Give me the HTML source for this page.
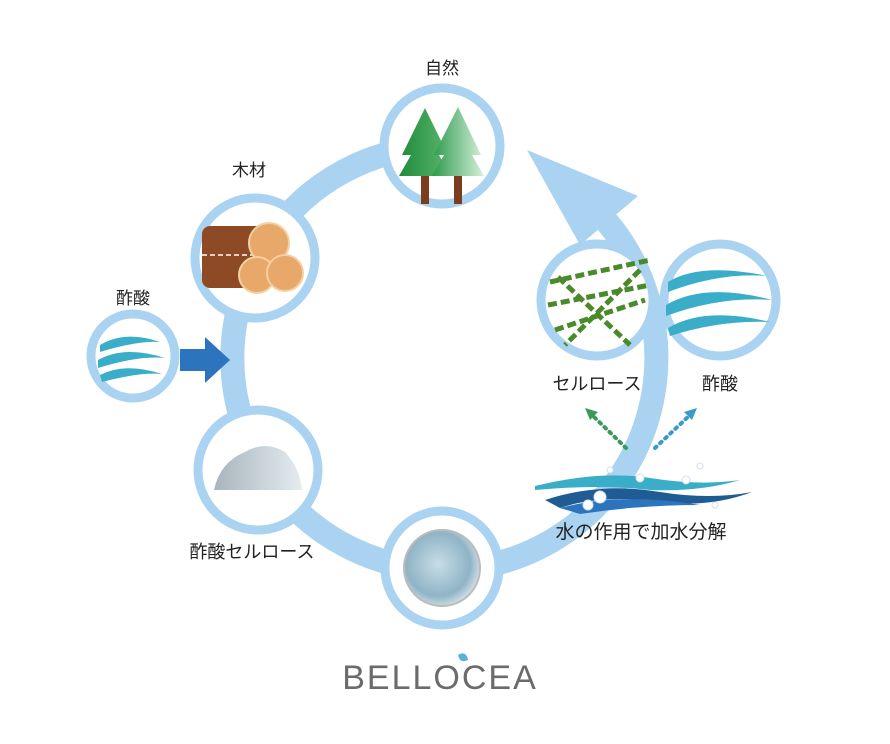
<!DOCTYPE html>
<html><head><meta charset="utf-8"><style>
body{margin:0;background:#fff;width:890px;height:739px;overflow:hidden}
text{font-family:"Liberation Sans","Noto Sans CJK JP",sans-serif;fill:#222}
</style></head><body>
<svg width="890" height="739" viewBox="0 0 890 739" xmlns="http://www.w3.org/2000/svg">
<defs>
<linearGradient id="tr" x1="0" x2="1"><stop offset="0" stop-color="#1f8a3c"/><stop offset="1" stop-color="#5cb96f"/></linearGradient>
<linearGradient id="tr2" x1="0" x2="1"><stop offset="0" stop-color="#2a9a4a"/><stop offset="1" stop-color="#d8f0dc"/></linearGradient>
<radialGradient id="ball" cx="0.45" cy="0.45" r="0.6"><stop offset="0" stop-color="#c8dce6"/><stop offset="0.7" stop-color="#8fb4c6"/><stop offset="1" stop-color="#e0e8ee"/></radialGradient>
<linearGradient id="pile" x1="0" x2="1"><stop offset="0" stop-color="#a8b4bc"/><stop offset="1" stop-color="#e4ecf0"/></linearGradient>
</defs>
<!-- ring -->
<path d="M 442 146 A 212 212 0 1 0 607 222" fill="none" stroke="#a9d3f0" stroke-width="24"/>
<polygon points="527,150 580,245 638,196" fill="#a9d3f0"/>
<!-- circles -->
<g stroke="#a9d3f0" stroke-width="9" fill="#fff">
<circle cx="442" cy="146" r="58"/>
<circle cx="255" cy="258" r="60"/>
<circle cx="258" cy="470" r="60"/>
<circle cx="442" cy="568" r="57"/>
<circle cx="597" cy="300" r="56"/>
<circle cx="720" cy="300" r="56"/>
<circle cx="133" cy="356" r="42"/>
</g>
<!-- trees -->
<rect x="421" y="170" width="8" height="34" fill="#7a3d1e"/>
<rect x="454" y="170" width="8" height="34" fill="#7a3d1e"/>
<polygon points="425,108 402,155 411,155 399,176 451,176 439,155 448,155" fill="url(#tr)"/>
<polygon points="458,107 434,155 444,155 432,176 484,176 472,155 481,155" fill="url(#tr2)"/>
<!-- logs -->
<rect x="202" y="226" width="70" height="62" rx="8" fill="#8e4a24"/>
<line x1="202" y1="255" x2="255" y2="255" stroke="#fff" stroke-width="1.5" stroke-dasharray="5,3"/>
<circle cx="269" cy="243" r="20" fill="#e8a86a" stroke="#f4d0a0" stroke-width="2"/>
<circle cx="257" cy="275" r="18" fill="#e8a86a" stroke="#f4d0a0" stroke-width="2"/>
<circle cx="285" cy="273" r="18" fill="#e8a86a" stroke="#f4d0a0" stroke-width="2"/>
<!-- pile -->
<path d="M214 490 Q220 462 245 452 Q265 440 285 452 Q300 468 302 490 Z" fill="url(#pile)"/>
<!-- ball -->
<circle cx="442" cy="568" r="38" fill="url(#ball)" stroke="#bbb" stroke-width="2"/>
<!-- waves in small circle -->
<g fill="#3aaec8">
<path d="M100 345 Q125 330 160 342 Q140 340 100 352Z"/>
<path d="M98 360 Q125 345 165 358 Q140 355 98 368Z"/>
<path d="M100 375 Q125 362 162 374 Q140 372 102 382Z"/>
</g>
<polygon points="180,349 205,349 205,337 230,360 205,383 205,371 180,371" fill="#2d74bf"/>
<!-- acid big waves -->
<g fill="#3aaec8">
<path d="M668 282 Q700 262 768 276 Q720 272 668 292Z"/>
<path d="M666 305 Q705 282 772 300 Q720 296 666 316Z"/>
<path d="M668 328 Q705 306 770 322 Q720 320 670 336Z"/>
</g>
<!-- cellulose dashes -->
<g stroke="#4a8a2a" stroke-width="5" stroke-dasharray="9,4" fill="none">
<line x1="550" y1="282" x2="650" y2="260"/>
<line x1="548" y1="305" x2="650" y2="285"/>
<line x1="555" y1="330" x2="645" y2="300"/>
<line x1="558" y1="277" x2="630" y2="345"/>
<line x1="640" y1="270" x2="565" y2="345"/>
</g>
<!-- dotted arrows -->
<line x1="626" y1="448" x2="592" y2="415" stroke="#3a9a5a" stroke-width="4" stroke-dasharray="2,5" stroke-linecap="round"/>
<polygon points="585,408 598,412 590,420" fill="#3a9a5a"/>
<line x1="655" y1="448" x2="690" y2="415" stroke="#3a9ac8" stroke-width="4" stroke-dasharray="2,5" stroke-linecap="round"/>
<polygon points="697,408 684,412 692,420" fill="#3a9ac8"/>
<!-- water -->
<path d="M535 486 Q600 470 650 478 Q700 486 740 480 Q700 492 650 490 Q600 484 535 490Z" fill="#3aaec8"/>
<path d="M545 500 Q600 482 660 492 Q710 500 752 492 Q710 508 660 502 Q600 494 560 508Z" fill="#1f5c94"/>
<path d="M560 508 Q620 492 700 505 Q640 505 580 514Z" fill="#2d74bf"/>
<g fill="#fff" stroke="#cfe0ea"><circle cx="600" cy="497" r="6"/><circle cx="588" cy="505" r="5"/><circle cx="640" cy="478" r="4"/><circle cx="686" cy="480" r="4"/><circle cx="610" cy="470" r="3"/><circle cx="700" cy="466" r="3"/><circle cx="715" cy="505" r="3"/></g>
<!-- labels -->
<text x="442" y="74" font-size="17" text-anchor="middle">自然</text>
<text x="249" y="176" font-size="17" text-anchor="middle">木材</text>
<text x="133" y="304" font-size="17" text-anchor="middle">酢酸</text>
<text x="252" y="558" font-size="18" text-anchor="middle">酢酸セルロース</text>
<text x="597" y="390" font-size="18" text-anchor="middle">セルロース</text>
<text x="720" y="390" font-size="18" text-anchor="middle">酢酸</text>
<text x="641" y="538" font-size="19" text-anchor="middle">水の作用で加水分解</text>
<text x="440" y="689" font-size="34" text-anchor="middle" style="fill:#6b6b6b;letter-spacing:2px">BELLOCEA</text>
<path d="M458 655 Q466 650 468 660 Q460 664 458 655Z" fill="#5ab0d8"/>
</svg>
</body></html>
